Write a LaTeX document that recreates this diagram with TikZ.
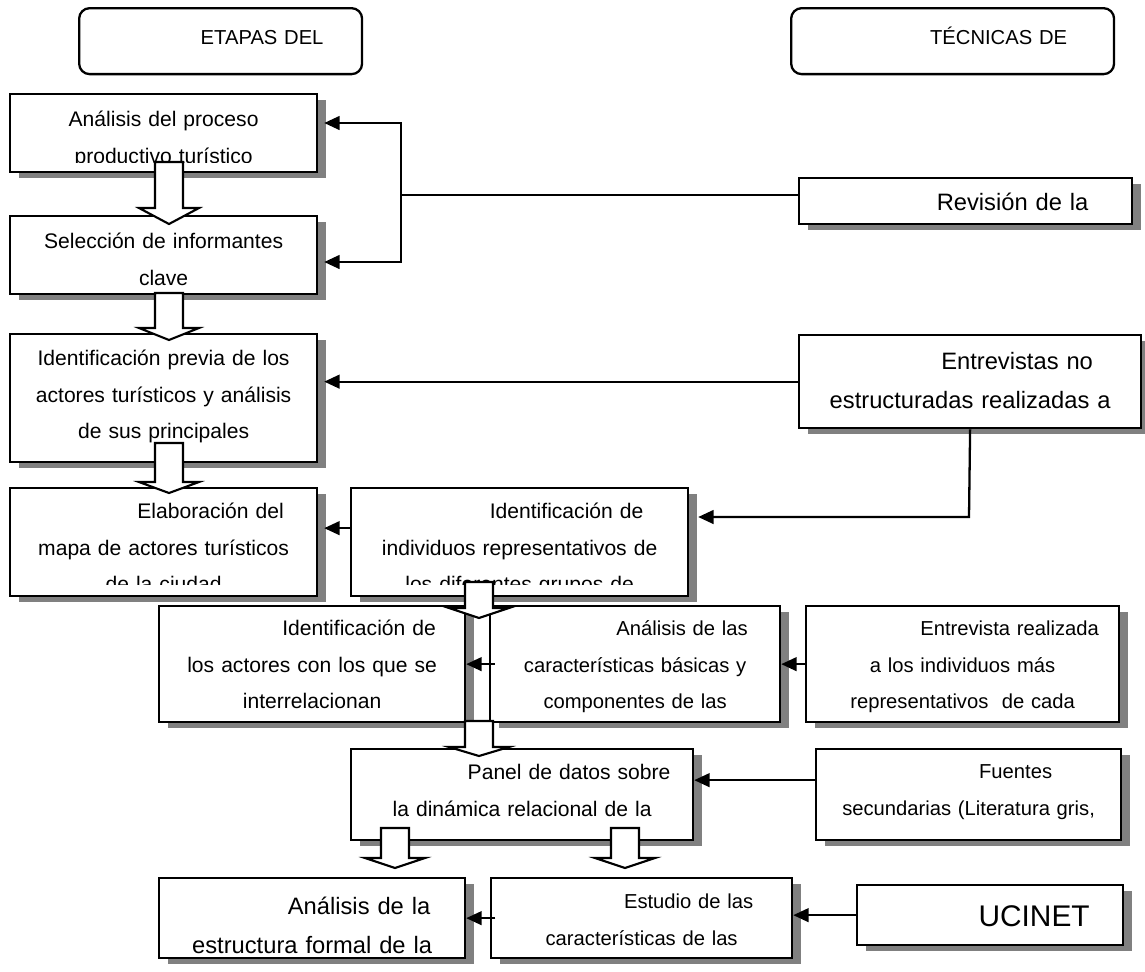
\documentclass[tikz,border=0pt]{standalone}
\usepackage{fontspec}
\setmainfont{Liberation Sans}
\usetikzlibrary{arrows.meta,calc,shadows}
\definecolor{shade}{RGB}{128,128,128}

% first-line indent of the centred box texts
\newcommand{\ind}[1][18.8mm]{\hspace*{#1}}

% box: name, left, top, right, bottom, first baseline offset, style, text (all in px)
\newcommand{\tbox}[8]{%
  \pgfmathsetmacro{\tbw}{(#4-#2)*0.2}%
  \pgfmathsetmacro{\tbh}{#6*0.2}%
  \pgfmathsetmacro{\tbd}{(#5-#3-#6)*0.2}%
  \node[stepbox,#7,text width=\tbw mm,text height=\tbh mm,text depth=\tbd mm] (#1) at (#2,#3) {#8};%
}

% hollow block arrow pointing down: start, tip, head length (px)
\newcommand{\hollowarrow}[3]{%
  \draw[hollow] ($(#1)+(-14,0)$) -- ($(#1)+(14,0)$) -- ($(#2)+(14,-#3)$)
    -- ($(#2)+(30,-#3)$) -- (#2) -- ($(#2)+(-30,-#3)$) -- ($(#2)+(-14,-#3)$) -- cycle;%
}

% hides the part of an overflowing last line below the inner margin
\newcommand{\cutoff}[2]{%
  \fill[white] ($(#1.south west)+(2.5,-2.5)$) rectangle ($(#1.south east)+(-2.5,-#2)$);%
}

\tikzset{
  stepbox/.style={draw, line width=1.3pt, fill=white, inner sep=0pt, align=center,
    anchor=north west, font=\fontsize{12}{21}\selectfont},
  shadowed/.style={drop shadow={shadow xshift=5.1pt, shadow yshift=-3.4pt, opacity=1, fill=shade}},
  header/.style={rounded corners=6pt, font=\fontsize{11.5}{21}\selectfont},
  small/.style={font=\fontsize{11.5}{21}\selectfont},
  large/.style={font=\fontsize{13.5}{22.5}\selectfont},
  huge/.style={font=\fontsize{17}{22}\selectfont},
  conn/.style={line width=1.3pt},
  arr/.style={line width=1.3pt, -{Triangle[length=8.8pt,width=7.8pt]}},
  arrboth/.style={line width=1.3pt, {Triangle[length=8.8pt,width=7.8pt]}-{Triangle[length=8.8pt,width=7.8pt]}},
  hollow/.style={draw, fill=white, line width=1.2pt, line join=miter},
}

\begin{document}
\begin{tikzpicture}[x=0.02cm, y=-0.02cm]
\fill[white] (0,0) rectangle (1145,971);
\useasboundingbox (0,0) rectangle (1145,971);

% column headers
\tbox{hd1}{78}{7}{361}{73}{36}{header}{\ind[16.6mm]ETAPAS DEL}
\tbox{hd2}{790}{7}{1113}{73}{36}{header}{\ind[18.4mm]TÉCNICAS DE}

% stages
\tbox{b1}{9}{93}{316}{171}{32}{shadowed}{Análisis del proceso\\productivo turístico}
\tbox{b2}{9}{215}{316}{293}{32}{shadowed}{Selección de informantes\\clave}
\tbox{b3}{9}{333}{316}{461}{31}{shadowed}{Identificación previa de los\\actores turísticos y análisis\\de sus principales}
\tbox{b4}{9}{487}{316}{595}{30}{shadowed}{\ind Elaboración del\\mapa de actores turísticos\\de la ciudad}
\tbox{b5}{350}{487}{687}{595}{30}{shadowed}{\ind Identificación de\\individuos representativos de\\los diferentes grupos de}
\tbox{b6}{158}{605}{464}{721}{29}{shadowed}{\ind Identificación de\\los actores con los que se\\interrelacionan}
\tbox{b7}{489}{605}{779}{721}{29}{shadowed,small}{\ind Análisis de las\\características básicas y\\componentes de las}
\tbox{b9}{350}{748}{692}{839}{30}{shadowed}{\ind Panel de datos sobre\\la dinámica relacional de la}
\tbox{b11}{158}{877}{464}{957}{36}{shadowed,large}{\ind Análisis de la\\estructura formal de la}
\tbox{b12}{490}{877}{791}{957}{30}{shadowed,small}{\ind Estudio de las\\características de las}

% techniques
\tbox{rev}{798}{177}{1131}{223}{32}{shadowed,large}{\ind Revisión de la}
\tbox{ent}{798}{334}{1140}{427}{34}{shadowed,large}{\ind Entrevistas no\\estructuradas realizadas a}
\tbox{b8}{805}{605}{1118}{721}{29}{shadowed,small}{\ind Entrevista realizada\\a los individuos más\\representativos\ \ de cada}
\tbox{fue}{815}{748}{1120}{839}{29}{shadowed,small}{\ind Fuentes\\secundarias (Literatura gris,}
\tbox{uc}{856}{884}{1122}{944}{41}{shadowed,huge}{\ind[17.6mm]UCINET}

% overflowing last lines are cut at the inner margin
\cutoff{b1}{10}
\cutoff{b4}{12}
\cutoff{b5}{12}

% sequence of stages
\coordinate (h1s) at (169,162); \coordinate (h1t) at (169,224);
\coordinate (h2s) at (169,293); \coordinate (h2t) at (169,340);
\coordinate (h3s) at (169,443); \coordinate (h3t) at (169,493);
\coordinate (h4s) at (479,582); \coordinate (h4t) at (479,618);
\coordinate (h5s) at (479,721); \coordinate (h5t) at (479,756);
\coordinate (h6s) at (395,828); \coordinate (h6t) at (395,868);
\coordinate (h7s) at (625,828); \coordinate (h7t) at (625,868);
\hollowarrow{h1s}{h1t}{16}
\hollowarrow{h2s}{h2t}{12}
\hollowarrow{h3s}{h3t}{11}
\hollowarrow{h4s}{h4t}{10}
\hollowarrow{h5s}{h5t}{9}
\hollowarrow{h6s}{h6t}{10}
\hollowarrow{h7s}{h7t}{10}

% technique feeding each stage
\coordinate (bt) at (401,123);
\coordinate (bb) at (401,262);
\coordinate (bj) at (401,195);
\draw[arrboth, shorten <=3.4pt, shorten >=3.4pt] (bt -| b1.east) -- (bt) -- (bb) -- (bb -| b2.east);
\draw[conn] (bj) -- (bj -| rev.west);

\draw[arr, shorten >=3.4pt] (ent.west) -- (ent.west -| b3.east);
\coordinate (k5) at (969,517);
\draw[arr, shorten >=5.1pt] (ent.south) -- (k5) -- (k5 -| b5.east);

\coordinate (k4) at ([yshift=2.8mm]b5.west);
\draw[arr, shorten >=3.4pt] (k4) -- (k4 -| b4.east);

\draw[arr, shorten <=-3.4pt] (b7.west) -- (b6.east);
\draw[arr] (b8.west) -- (b7.east);

\coordinate (k9) at ([yshift=2.9mm]fue.west);
\draw[arr] (k9) -- (k9 -| b9.east);

\draw[arr, shorten <=-3pt] (b12.west) -- (b11.east);
\draw[arr] (uc.west) -- (uc.west -| b12.east);
\end{tikzpicture}
\end{document}
